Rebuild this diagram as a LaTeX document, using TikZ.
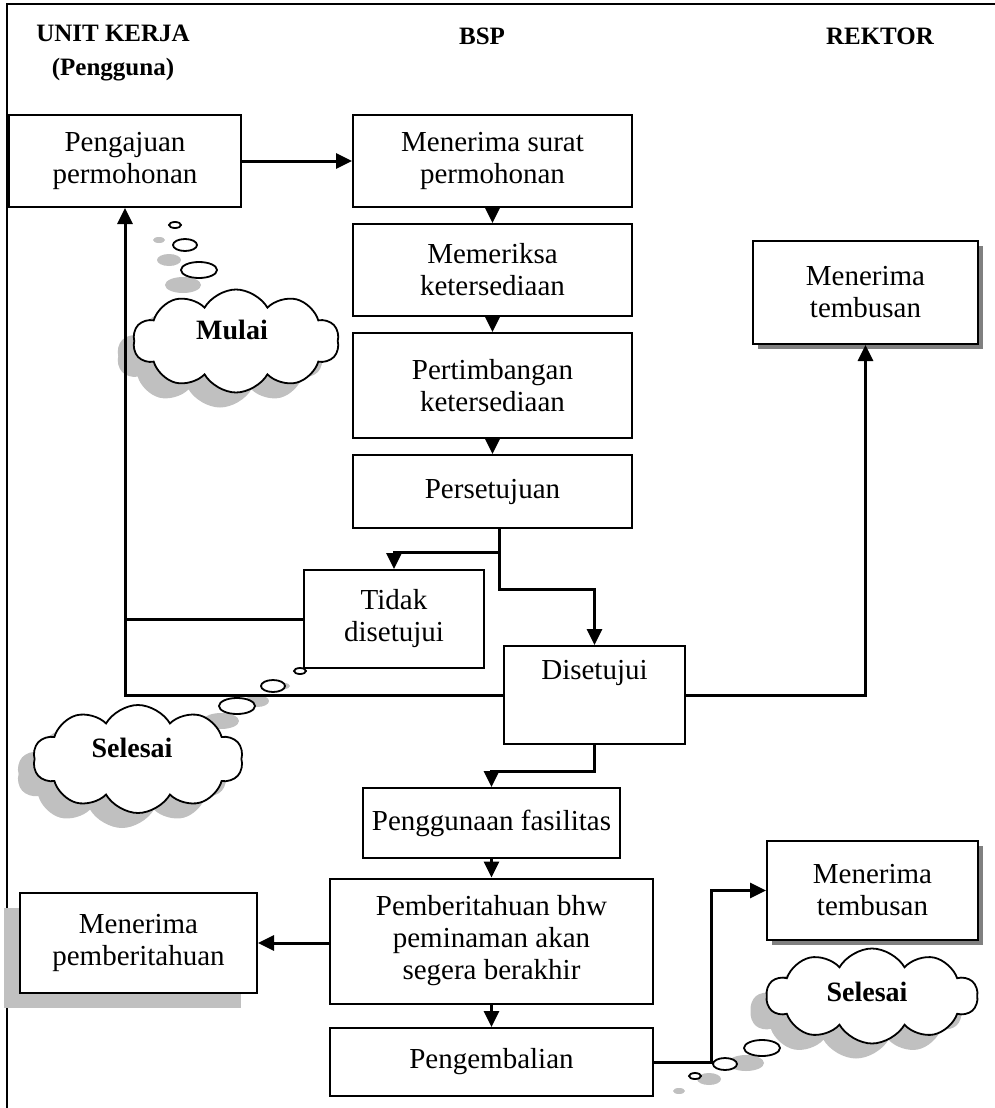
\documentclass[tikz,border=0pt]{standalone}
\usepackage{fontspec}
\setmainfont{Liberation Serif}
\usetikzlibrary{arrows.meta,shapes.symbols,shadows}
\definecolor{lightshade}{RGB}{192,192,192}
\definecolor{darkshade}{RGB}{128,128,128}
\begin{document}
\begin{tikzpicture}[x=1pt,y=-1pt,
  box/.style={draw, line width=2pt, fill=white, align=center, inner sep=0pt,
    font=\fontsize{29}{32}\selectfont},
  txt/.style={align=center, inner sep=0pt, font=\fontsize{29}{32}\selectfont},
  hdr/.style={align=center, inner sep=0pt, font=\bfseries\fontsize{25}{34}\selectfont},
  cloudtxt/.style={inner sep=0pt, font=\bfseries\fontsize{28}{30}\selectfont},
  darkshadow/.style={drop shadow={shadow xshift=5pt, shadow yshift=-5pt, fill=darkshade, opacity=1}},
  lightshadow/.style={drop shadow={shadow xshift=-16pt, shadow yshift=-15pt, fill=lightshade, opacity=1}},
  puff/.style={cloud, cloud puffs=10, cloud puff arc=120, cloud ignores aspect,
    draw, line width=1.8pt, fill=white, inner sep=0pt, lightshadow},
  bubble/.style={draw, line width=1.8pt, fill=white},
  bubbleshade/.style={fill=lightshade},
  flow/.style={line width=3pt},
  arr/.style={flow, -{Triangle[length=16pt,width=15pt]}},
  frame/.style={line width=2.2pt}
]
\useasboundingbox (0,0) rectangle (995,1108);

% outer frame (left and top edges)
\draw[frame] (7,1108) -- (7,4) -- (995,4);

% column headings
\node[hdr] (hUnit) at (113,53) {UNIT KERJA\\(Pengguna)};
\node[hdr] (hBsp) at (482,36) {BSP};
\node[hdr] (hRektor) at (880,36) {REKTOR};

% process boxes
\node[box, minimum width=232, minimum height=92] (peng) at (125,161) {Pengajuan\\permohonan};
\node[box, minimum width=279, minimum height=92] (surat) at (492.5,161) {Menerima surat\\permohonan};
\node[box, minimum width=279, minimum height=92] (meme) at (492.5,270) {Memeriksa\\ketersediaan};
\node[box, minimum width=279, minimum height=105] (pert) at (492.5,385.5) {Pertimbangan\\ketersediaan};
\node[box, minimum width=279, minimum height=73] (pers) at (492.5,491.5) {Persetujuan};
\node[box, minimum width=180, minimum height=98] (tidak) at (394,619) {Tidak\\disetujui};
\node[box, minimum width=181, minimum height=98] (dis) at (594.5,695) {};
\node[txt] (disT) at (594.5,673) {Disetujui};
\node[box, darkshadow, minimum width=225, minimum height=103] (temb1) at (865.5,292.5) {Menerima\\tembusan};
\node[box, minimum width=257, minimum height=70] (guna) at (491.5,823) {Penggunaan fasilitas};
\node[box, minimum width=323, minimum height=125] (pemb) at (491.5,941) {Pemberitahuan bhw\\peminaman akan\\segera berakhir};
\node[box, lightshadow, minimum width=237, minimum height=100] (pmb) at (138.5,943) {Menerima\\pemberitahuan};
\node[box, minimum width=323, minimum height=68] (kemb) at (491.5,1062) {Pengembalian};
\node[box, darkshadow, minimum width=211, minimum height=99] (temb2) at (872.5,890.5) {Menerima\\tembusan};

% start and end clouds with their thought bubbles
\fill[bubbleshade] (159,240) ellipse [x radius=6, y radius=3];
\fill[bubbleshade] (169,260) ellipse [x radius=12, y radius=6];
\fill[bubbleshade] (183,285) ellipse [x radius=18, y radius=8];
\node[puff, minimum width=206, minimum height=103] (mulai) at (236,341) {};
\node[cloudtxt] (mulaiT) at (232,330) {Mulai};
\draw[bubble] (175,225) ellipse [x radius=6, y radius=3];
\draw[bubble] (185,245) ellipse [x radius=12, y radius=6];
\draw[bubble] (199,270) ellipse [x radius=18, y radius=8];

\fill[bubbleshade] (284,686) ellipse [x radius=6, y radius=3];
\fill[bubbleshade] (257,701) ellipse [x radius=12, y radius=6];
\fill[bubbleshade] (221,721) ellipse [x radius=18, y radius=8];
\node[puff, minimum width=210, minimum height=108] (sel1) at (138,759) {};
\node[cloudtxt] (sel1T) at (132,748) {Selesai};
\draw[bubble] (300,671) ellipse [x radius=6, y radius=3];
\draw[bubble] (273,686) ellipse [x radius=12, y radius=6];
\draw[bubble] (237,706) ellipse [x radius=18, y radius=8];

\fill[bubbleshade] (679,1091) ellipse [x radius=6, y radius=3];
\fill[bubbleshade] (709,1079) ellipse [x radius=12, y radius=6];
\fill[bubbleshade] (746,1063) ellipse [x radius=18, y radius=8];
\node[puff, minimum width=211, minimum height=95] (sel2) at (872,996) {};
\node[cloudtxt] (sel2T) at (867,992) {Selesai};
\draw[bubble] (695,1076) ellipse [x radius=6, y radius=3];
\draw[bubble] (725,1064) ellipse [x radius=12, y radius=6];
\draw[bubble] (762,1048) ellipse [x radius=18, y radius=8];

% connectors
\coordinate (split) at (499,552);
\coordinate (split2) at (499,589);
\draw[arr] (peng.east) -- (surat.west);
\draw[arr] (surat.south) -- (meme.north);
\draw[arr] (meme.south) -- (pert.north);
\draw[arr] (pert.south) -- (pers.north);
\draw[flow] (pers.south -| split) -- (split);
\draw[arr] (split) -| (tidak.north);
\draw[arr] (split) -- (split2) -| (dis.north);
\draw[arr] (dis.west) -| (peng.south);
\draw[flow] (tidak.west) -- (tidak.west -| peng.south);
\draw[arr] (dis.east) -| (temb1.south);
\draw[arr] (dis.south) -- ++(0,26) -| (guna.north);
\draw[arr] (guna.south) -- (pemb.north);
\draw[arr] (pmb.east -| pemb.west) -- (pmb.east);
\draw[arr] (pemb.south) -- (kemb.north);
\draw[arr] (kemb.east) -- ++(57,0) |- (temb2.west);
\end{tikzpicture}
\end{document}
